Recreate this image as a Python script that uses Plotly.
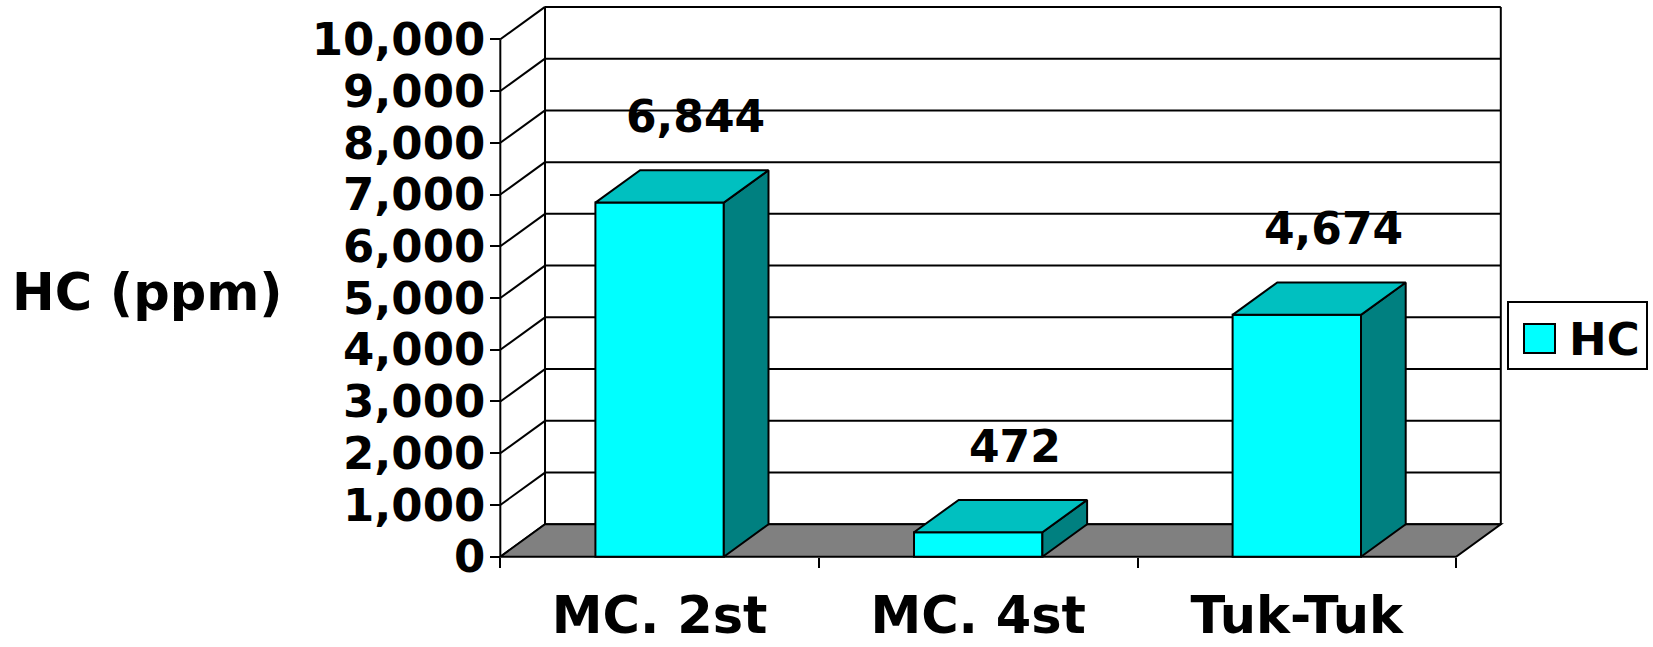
import plotly.graph_objects as go

# ---- data -----------------------------------------------------------------
categories = ["MC. 2st", "MC. 4st", "Tuk-Tuk"]
hc_values = [6844, 472, 4674]
series_name = "HC"
axis_title = "HC (ppm)"
y_ticks = list(range(0, 10001, 1000))
y_tick_labels = [f"{v:,}" for v in y_ticks]

# ---- styling ----------------------------------------------------------------
FRONT = "#00FFFF"
TOP = "#00C0C0"
SIDE = "#008080"
FLOOR = "#808080"
INK = "black"
FONT = "DejaVu Sans"

W, H = 1653, 647
ML, MR, MT, MB = 440, 140, 0, 57
PW, PH = W - ML - MR, H - MT - MB

# pseudo-3D geometry (in axis units)
DX = 0.1403          # depth shift along x
DY = 626             # depth shift along y
BAR_W = 0.403
X_RANGE = [-0.6893, 2.6786]
Y_RANGE = [-643.6, 10759.6]
X_LEFT, X_RIGHT = -0.5, len(categories) - 0.5
Y_TOP = y_ticks[-1]


def paper_x(px):
    return (px - ML) / PW


def paper_y(py):
    return 1 - (py - MT) / PH


fig = go.Figure()

# front faces
fig.add_trace(go.Bar(
    x=list(range(len(categories))), y=hc_values, width=BAR_W,
    marker=dict(color=FRONT, line=dict(color=INK, width=2)),
    name=series_name, showlegend=False, hoverinfo="skip",
))

# side and top faces
for i, v in enumerate(hc_values):
    xl, xr = i - BAR_W / 2, i + BAR_W / 2
    fig.add_trace(go.Scatter(
        x=[xr, xr + DX, xr + DX, xr, xr], y=[0, DY, v + DY, v, 0],
        mode="lines", fill="toself", fillcolor=SIDE,
        line=dict(color=INK, width=2), showlegend=False, hoverinfo="skip",
    ))
    fig.add_trace(go.Scatter(
        x=[xl, xr, xr + DX, xl + DX, xl], y=[v, v, v + DY, v + DY, v],
        mode="lines", fill="toself", fillcolor=TOP,
        line=dict(color=INK, width=2), showlegend=False, hoverinfo="skip",
    ))

shapes = []
line_style = dict(color=INK, width=2)

# back wall gridlines and left wall diagonals
for v in y_ticks:
    shapes.append(dict(type="line", xref="x", yref="y", layer="below",
                       x0=X_LEFT + DX, x1=X_RIGHT + DX, y0=v + DY, y1=v + DY,
                       line=line_style))
    shapes.append(dict(type="line", xref="x", yref="y", layer="below",
                       x0=X_LEFT, x1=X_LEFT + DX, y0=v, y1=v + DY,
                       line=line_style))
# back wall verticals
for xv in (X_LEFT + DX, X_RIGHT + DX):
    shapes.append(dict(type="line", xref="x", yref="y", layer="below",
                       x0=xv, x1=xv, y0=DY, y1=Y_TOP + DY, line=line_style))
# floor
shapes.append(dict(
    type="path", xref="x", yref="y", layer="below",
    path=(f"M {X_LEFT},0 L {X_RIGHT},0 L {X_RIGHT + DX},{DY} "
          f"L {X_LEFT + DX},{DY} Z"),
    fillcolor=FLOOR, line=line_style))
# front value axis line
shapes.append(dict(type="line", xref="x", yref="y", layer="below",
                   x0=X_LEFT, x1=X_LEFT, y0=0, y1=Y_TOP, line=line_style))

# legend box
lx0, lx1, ly0, ly1 = 1508, 1647, 302, 369
shapes.append(dict(type="rect", xref="paper", yref="paper",
                   x0=paper_x(lx0), x1=paper_x(lx1),
                   y0=paper_y(ly1), y1=paper_y(ly0),
                   line=dict(color=INK, width=2), fillcolor="white"))
shapes.append(dict(type="rect", xref="paper", yref="paper",
                   x0=paper_x(1524), x1=paper_x(1555),
                   y0=paper_y(353), y1=paper_y(324),
                   line=dict(color=INK, width=2), fillcolor=FRONT))

annotations = []
# value labels
for i, v in enumerate(hc_values):
    annotations.append(dict(
        x=i + DX / 2, y=v + DY / 2, xref="x", yref="y",
        text=f"{v:,}", showarrow=False, xshift=14, yshift=70,
        xanchor="center", yanchor="middle",
        font=dict(family=FONT, size=44, color=INK, weight="bold"),
    ))
# value axis title
annotations.append(dict(
    x=paper_x(10), y=paper_y(292), xref="paper", yref="paper",
    text=axis_title, showarrow=False, xanchor="left", yanchor="middle",
    font=dict(family=FONT, size=51, color=INK, weight="bold"),
))
# legend text
annotations.append(dict(
    x=paper_x(1567), y=paper_y(339), xref="paper", yref="paper",
    text=series_name, showarrow=False, xanchor="left", yanchor="middle",
    font=dict(family=FONT, size=45, color=INK, weight="bold"),
))

fig.update_layout(
    width=W, height=H,
    margin=dict(l=ML, r=MR, t=MT, b=MB, autoexpand=False),
    paper_bgcolor="white", plot_bgcolor="white",
    showlegend=False,
    shapes=shapes, annotations=annotations,
    xaxis=dict(
        range=X_RANGE, anchor="free",
        position=(0 - Y_RANGE[0]) / (Y_RANGE[1] - Y_RANGE[0]),
        tickmode="array", tickvals=list(range(len(categories))),
        ticktext=categories, ticks="", showgrid=False, zeroline=False,
        showline=False,
        tickfont=dict(family=FONT, size=51, color=INK, weight="bold"),
        ticklabelstandoff=24,
        minor=dict(tickmode="array",
                   tickvals=[k - 0.5 for k in range(len(categories) + 1)],
                   ticks="outside", ticklen=10, tickwidth=2, tickcolor=INK,
                   showgrid=False),
    ),
    yaxis=dict(
        range=Y_RANGE, anchor="free",
        position=(X_LEFT - X_RANGE[0]) / (X_RANGE[1] - X_RANGE[0]),
        tickmode="array", tickvals=y_ticks, ticktext=y_tick_labels,
        ticks="outside", ticklen=10, tickwidth=2, tickcolor=INK,
        showgrid=False, zeroline=False, showline=False,
        tickfont=dict(family=FONT, size=45, color=INK, weight="bold"),
        ticklabelstandoff=-4,
    ),
)

fig.write_html("out.html")
